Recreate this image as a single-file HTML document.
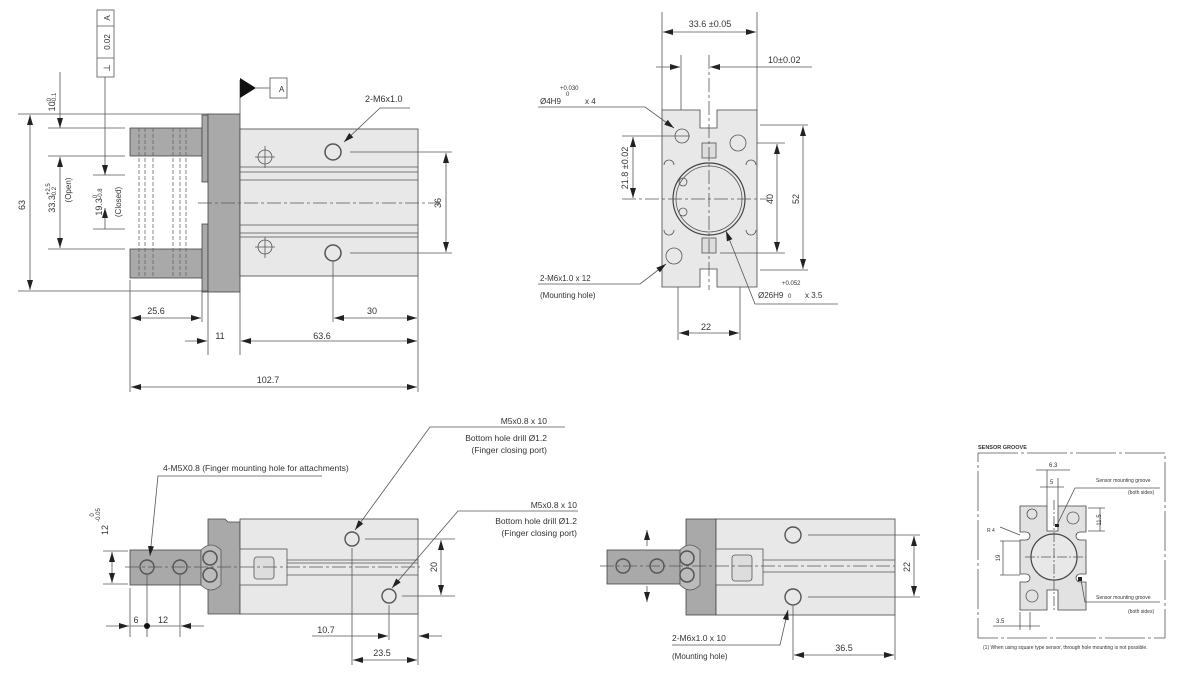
<!DOCTYPE html>
<html><head><meta charset="utf-8"><style>
html,body{margin:0;padding:0;background:#fff;width:1200px;height:676px;overflow:hidden}
svg{display:block}
text{font-family:"Liberation Sans",sans-serif;fill:#333}
</style></head><body>
<svg width="1200" height="676" viewBox="0 0 1200 676" xmlns="http://www.w3.org/2000/svg">
<defs>
<marker id="a" viewBox="0 0 10 6" refX="10" refY="3" markerWidth="10" markerHeight="6" orient="auto-start-reverse" markerUnits="userSpaceOnUse"><path d="M0,0 L10,3 L0,6 z" fill="#222"/></marker>
</defs>
<g stroke="#555" stroke-width="0.8" fill="none">
<!-- ===== TOP LEFT VIEW ===== -->
<!-- fingers -->
<rect x="130" y="128" width="72" height="28" fill="#a9a9a9" stroke="#444"/>
<rect x="130" y="249" width="72" height="29" fill="#a9a9a9" stroke="#444"/>
<rect x="202" y="115" width="6" height="67" fill="#a9a9a9" stroke="#444"/>
<rect x="202" y="224" width="6" height="68" fill="#a9a9a9" stroke="#444"/>
<g stroke="#666" stroke-dasharray="4,2">
<line x1="139" y1="128" x2="139" y2="278"/><line x1="145" y1="128" x2="145" y2="278"/>
<line x1="153" y1="128" x2="153" y2="278"/><line x1="173" y1="128" x2="173" y2="278"/>
<line x1="180" y1="128" x2="180" y2="278"/><line x1="186" y1="128" x2="186" y2="278"/>
</g>
<rect x="208" y="114" width="32" height="178" fill="#a9a9a9" stroke="#444"/>
<rect x="240" y="129" width="178" height="147" fill="#e8e8e8" stroke="#444"/>
<line x1="240" y1="167" x2="418" y2="167"/><line x1="240" y1="172" x2="418" y2="172"/><line x1="240" y1="180" x2="418" y2="180"/>
<line x1="240" y1="225" x2="418" y2="225"/><line x1="240" y1="233" x2="418" y2="233"/><line x1="240" y1="237" x2="418" y2="237"/>
<line x1="198" y1="203" x2="440" y2="203" stroke-dasharray="14,3,3,3"/>
<circle cx="265" cy="157" r="7"/><line x1="255" y1="157" x2="275" y2="157"/><line x1="265" y1="146" x2="265" y2="168"/>
<circle cx="265" cy="247" r="7"/><line x1="255" y1="247" x2="275" y2="247"/><line x1="265" y1="237" x2="265" y2="258"/>
<circle cx="333" cy="152" r="8" stroke-width="1.5"/><circle cx="333" cy="253" r="8" stroke-width="1.5"/>
<line x1="350" y1="152" x2="452" y2="152"/><line x1="350" y1="253" x2="452" y2="253"/>
<line x1="446" y1="153" x2="446" y2="252" marker-start="url(#a)" marker-end="url(#a)"/>
<polyline points="410,108 380,108 344,142" marker-end="url(#a)"/>
<!-- left dims -->
<line x1="18" y1="114" x2="208" y2="114"/><line x1="18" y1="291" x2="208" y2="291"/>
<line x1="30" y1="115" x2="30" y2="290" marker-start="url(#a)" marker-end="url(#a)"/>
<line x1="48" y1="128" x2="125" y2="128"/><line x1="48" y1="156" x2="125" y2="156"/><line x1="48" y1="249" x2="125" y2="249"/>
<line x1="60" y1="72" x2="60" y2="128" marker-end="url(#a)"/>
<line x1="60" y1="157" x2="60" y2="248" marker-start="url(#a)" marker-end="url(#a)"/>
<line x1="93" y1="175" x2="125" y2="175"/><line x1="93" y1="229" x2="125" y2="229"/>
<line x1="105" y1="77" x2="105" y2="175" marker-end="url(#a)"/>
<line x1="105" y1="229" x2="105" y2="208" marker-end="url(#a)"/>
<rect x="97" y="10" width="17" height="67" fill="#fff"/><line x1="97" y1="26" x2="114" y2="26"/><line x1="97" y1="58" x2="114" y2="58"/>
<!-- datum -->
<line x1="240" y1="80" x2="240" y2="114"/><line x1="256" y1="88" x2="270" y2="88"/>
<rect x="270" y="78" width="17" height="20" fill="#fff"/>
<!-- bottom dims -->
<line x1="130" y1="280" x2="130" y2="392"/><line x1="202" y1="292" x2="202" y2="322"/>
<line x1="208" y1="292" x2="208" y2="355"/><line x1="240" y1="292" x2="240" y2="355"/>
<line x1="418" y1="276" x2="418" y2="392"/><line x1="333" y1="262" x2="333" y2="322"/>
<line x1="131" y1="318" x2="201" y2="318" marker-start="url(#a)" marker-end="url(#a)"/>
<line x1="334" y1="318" x2="417" y2="318" marker-start="url(#a)" marker-end="url(#a)"/>
<line x1="185" y1="341" x2="207" y2="341" marker-end="url(#a)"/>
<line x1="241" y1="341" x2="417" y2="341" marker-start="url(#a)" marker-end="url(#a)"/>
<line x1="131" y1="387" x2="417" y2="387" marker-start="url(#a)" marker-end="url(#a)"/>

<!-- ===== TOP RIGHT VIEW ===== -->
<path d="M662,110 H700 V128 H717 V110 H757 V287 H717 V269 H700 V287 H662 Z" fill="#e8e8e8" stroke="#444"/>
<rect x="702" y="143" width="14" height="15" fill="#ddd"/><rect x="702" y="238" width="14" height="15" fill="#ddd"/>
<circle cx="709" cy="199" r="36" fill="#e8e8e8" stroke="#444" stroke-width="1.2"/>
<circle cx="709" cy="199" r="33"/>
<circle cx="682" cy="136" r="7"/><circle cx="738" cy="143" r="8"/><circle cx="674" cy="256" r="8"/>
<circle cx="683" cy="182" r="4"/><circle cx="683" cy="212" r="4"/>
<g><path d="M664,165 a5,5 0 0 1 10,0" /><path d="M746,165 a5,5 0 0 1 10,0"/><path d="M664,230 a5,5 0 0 0 10,0"/><path d="M746,230 a5,5 0 0 0 10,0"/></g>
<line x1="709" y1="55" x2="709" y2="290" stroke-dasharray="14,3,3,3"/>
<line x1="622" y1="199" x2="768" y2="199" stroke-dasharray="14,3,3,3"/>
<line x1="662" y1="12" x2="662" y2="110"/><line x1="757" y1="12" x2="757" y2="110"/>
<line x1="663" y1="32" x2="756" y2="32" marker-start="url(#a)" marker-end="url(#a)"/>
<line x1="681" y1="55" x2="681" y2="110"/>
<line x1="656" y1="67" x2="680" y2="67" marker-end="url(#a)"/>
<line x1="812" y1="67" x2="710" y2="67" marker-end="url(#a)"/>
<line x1="760" y1="125" x2="808" y2="125"/><line x1="760" y1="270" x2="808" y2="270"/>
<line x1="803" y1="126" x2="803" y2="269" marker-start="url(#a)" marker-end="url(#a)"/>
<line x1="757" y1="143" x2="785" y2="143"/><line x1="720" y1="253" x2="785" y2="253"/>
<line x1="777" y1="144" x2="777" y2="252" marker-start="url(#a)" marker-end="url(#a)"/>
<line x1="622" y1="136" x2="690" y2="136"/>
<line x1="633" y1="137" x2="633" y2="198" marker-start="url(#a)" marker-end="url(#a)"/>
<line x1="678" y1="287" x2="678" y2="340"/><line x1="740" y1="287" x2="740" y2="340"/>
<line x1="679" y1="333" x2="739" y2="333" marker-start="url(#a)" marker-end="url(#a)"/>
<polyline points="538,107 645,107 674,128" marker-end="url(#a)"/>
<polyline points="538,284 640,284 666,264" marker-end="url(#a)"/>
<polyline points="838,304 755,304 726,231" marker-end="url(#a)"/>

<!-- ===== BOTTOM LEFT VIEW ===== -->
<path d="M208,519 H225 L228,522 H240 V614 H208 Z" fill="#a9a9a9" stroke="#444"/>
<rect x="240" y="519" width="178" height="95" fill="#e8e8e8" stroke="#444"/>
<rect x="240" y="549" width="47" height="36" fill="#e8e8e8"/>
<rect x="254" y="557" width="20" height="22" rx="3" fill="#ddd"/>
<line x1="287" y1="560" x2="418" y2="560"/><line x1="287" y1="563" x2="418" y2="563"/><line x1="287" y1="575" x2="418" y2="575"/>
<rect x="130" y="550" width="71" height="35" fill="#a9a9a9" stroke="#444"/>
<path d="M201,550 q10,-10 20,0 v35 q-10,10 -20,0 z" fill="#bbb"/>
<circle cx="210" cy="558" r="7" stroke-width="1.5"/><circle cx="210" cy="575" r="7" stroke-width="1.5"/>
<circle cx="147" cy="567" r="7" stroke-width="1.4"/><circle cx="180" cy="567" r="7" stroke-width="1.4"/>
<line x1="125" y1="567" x2="420" y2="567" stroke-dasharray="14,3,3,3"/>
<circle cx="352" cy="539" r="7" stroke-width="1.4"/><circle cx="389" cy="596" r="7" stroke-width="1.4"/>
<line x1="365" y1="539" x2="455" y2="539"/><line x1="402" y1="596" x2="455" y2="596"/>
<line x1="441" y1="540" x2="441" y2="595" marker-start="url(#a)" marker-end="url(#a)"/>
<line x1="352" y1="548" x2="352" y2="665"/><line x1="389" y1="605" x2="389" y2="640"/>
<line x1="418" y1="614" x2="418" y2="640"/>
<line x1="312" y1="636" x2="388" y2="636" marker-end="url(#a)"/><line x1="442" y1="636" x2="419" y2="636" marker-end="url(#a)"/>
<line x1="353" y1="660" x2="417" y2="660" marker-start="url(#a)" marker-end="url(#a)"/>
<line x1="418" y1="640" x2="418" y2="665"/>
<polyline points="565,427 430,427 355,530" marker-end="url(#a)"/>
<polyline points="578,511 458,511 392,588" marker-end="url(#a)"/>
<polyline points="322,476 158,476 150,556" marker-end="url(#a)"/>
<line x1="103" y1="551" x2="128" y2="551"/><line x1="103" y1="584" x2="128" y2="584"/>
<line x1="112" y1="552" x2="112" y2="583" marker-start="url(#a)" marker-end="url(#a)"/>
<line x1="130" y1="588" x2="130" y2="637"/><line x1="147" y1="575" x2="147" y2="637"/><line x1="180" y1="575" x2="180" y2="637"/>
<line x1="106" y1="626" x2="129" y2="626" marker-end="url(#a)"/>
<line x1="204" y1="626" x2="181" y2="626" marker-end="url(#a)"/>
<line x1="130" y1="626" x2="180" y2="626"/>

<!-- ===== BOTTOM MIDDLE VIEW ===== -->
<rect x="686" y="519" width="30" height="96" fill="#a9a9a9" stroke="#444"/>
<rect x="716" y="519" width="179" height="96" fill="#e8e8e8" stroke="#444"/>
<rect x="716" y="549" width="47" height="36" fill="#e8e8e8"/>
<rect x="732" y="555" width="20" height="26" rx="3" fill="#ddd"/>
<line x1="763" y1="560" x2="895" y2="560"/><line x1="763" y1="572" x2="895" y2="572"/>
<rect x="607" y="550" width="73" height="34" fill="#a9a9a9" stroke="#444"/>
<path d="M680,550 q10,-10 20,0 v35 q-10,10 -20,0 z" fill="#bbb"/>
<circle cx="687" cy="558" r="7" stroke-width="1.5"/><circle cx="687" cy="575" r="7" stroke-width="1.5"/>
<circle cx="623" cy="566" r="7" stroke-width="1.4"/><circle cx="657" cy="566" r="7" stroke-width="1.4"/>
<line x1="600" y1="566" x2="895" y2="566" stroke-dasharray="14,3,3,3"/>
<line x1="647" y1="546" x2="647" y2="530" marker-end="url(#a)"/><line x1="647" y1="586" x2="647" y2="602" marker-end="url(#a)"/>
<circle cx="793" cy="535" r="8" stroke-width="1.4"/><circle cx="793" cy="597" r="8" stroke-width="1.4"/>
<line x1="808" y1="535" x2="920" y2="535"/><line x1="808" y1="597" x2="920" y2="597"/>
<line x1="914" y1="536" x2="914" y2="596" marker-start="url(#a)" marker-end="url(#a)"/>
<line x1="793" y1="606" x2="793" y2="660"/><line x1="895" y1="615" x2="895" y2="660"/>
<line x1="794" y1="655" x2="894" y2="655" marker-start="url(#a)" marker-end="url(#a)"/>
<polyline points="672,645 780,645 788,610" marker-end="url(#a)"/>

<!-- ===== SENSOR GROOVE ===== -->
<rect x="978" y="453" width="187" height="185" stroke-dasharray="40,3,3,3"/>
<path d="M1020,506 H1047 V531 H1058 V506 H1086 V532 H1080 a4,4 0 0 0 0,8 H1086 V574 H1080 a4,4 0 0 0 0,8 H1086 V610 H1058 V590 H1047 V610 H1020 V582 H1026 a4,4 0 0 0 0,-8 H1020 V540 H1026 a4,4 0 0 0 0,-8 H1020 Z" fill="#e2e2e2" stroke="#444"/>
<circle cx="1054" cy="557" r="23" fill="#e8e8e8" stroke="#444" stroke-width="1.2"/>
<circle cx="1032" cy="514" r="5"/><circle cx="1073" cy="518" r="6"/><circle cx="1032" cy="596" r="6"/>
<line x1="1025" y1="557" x2="1086" y2="557" stroke-dasharray="10,2,2,2"/>
<line x1="1054" y1="500" x2="1054" y2="612" stroke-dasharray="10,2,2,2"/>
<line x1="1047" y1="470" x2="1047" y2="506"/><line x1="1058" y1="478" x2="1058" y2="506"/>
<line x1="1036" y1="470" x2="1070" y2="470"/><line x1="1040" y1="487" x2="1064" y2="487"/>
<line x1="1088" y1="508" x2="1105" y2="508"/><line x1="1088" y1="531" x2="1105" y2="531"/>
<line x1="1100" y1="508" x2="1100" y2="531"/>
<line x1="1000" y1="541" x2="1020" y2="541"/><line x1="1000" y1="575" x2="1020" y2="575"/>
<line x1="1003" y1="541" x2="1003" y2="575"/>
<line x1="1020" y1="612" x2="1020" y2="630"/><line x1="1030" y1="612" x2="1030" y2="630"/>
<line x1="993" y1="626" x2="1040" y2="626"/>
<polyline points="1160,488 1075,488 1057,525"/>
<polyline points="1160,602 1085,602 1081,580"/>
<line x1="1000" y1="527" x2="1020" y2="535"/>
</g>
<rect x="1055" y="524" width="4" height="3" fill="#222"/><rect x="1078" y="577" width="4" height="4" fill="#222"/>
<polygon points="240,78 240,98 256,88" fill="#111"/>
<circle cx="147" cy="626" r="3" fill="#111"/>

<!-- TEXT -->
<g font-size="9">
<text x="365" y="102">2-M6x1.0</text>
<text x="156" y="314" text-anchor="middle">25.6</text>
<text x="372" y="314" text-anchor="middle">30</text>
<text x="220" y="339" text-anchor="middle">11</text>
<text x="322" y="339" text-anchor="middle">63.6</text>
<text x="268" y="383" text-anchor="middle">102.7</text>
<text x="279" y="92" font-size="8">A</text>
<text transform="translate(441,203) rotate(-90)" text-anchor="middle">36</text>
<text transform="translate(25,205) rotate(-90)" text-anchor="middle">63</text>
<text transform="translate(55,102) rotate(-90)" text-anchor="middle">10<tspan font-size="6" dy="-4">0</tspan><tspan font-size="6" dx="-5" dy="5">-0.1</tspan></text>
<text transform="translate(55,198) rotate(-90)" text-anchor="middle">33.3<tspan font-size="6" dy="-5">+2.5</tspan><tspan font-size="6" dx="-14" dy="6">-0.2</tspan></text>
<text transform="translate(71,190) rotate(-90)" text-anchor="middle" font-size="8">(Open)</text>
<text transform="translate(102,202) rotate(-90)" text-anchor="middle">19.3<tspan font-size="6" dy="-5">0</tspan><tspan font-size="6" dx="-4" dy="5">-0.8</tspan></text>
<text transform="translate(121,202) rotate(-90)" text-anchor="middle" font-size="8">(Closed)</text>
<text transform="translate(110,42) rotate(-90)" text-anchor="middle" font-size="8">0.02</text>
<text transform="translate(110,18) rotate(-90)" text-anchor="middle" font-size="8">A</text>
<text transform="translate(110,68) rotate(-90)" text-anchor="middle" font-size="9">⊥</text>

<text x="710" y="27" text-anchor="middle">33.6 ±0.05</text>
<text x="768" y="63">10±0.02</text>
<text x="540" y="104" font-size="8">Ø4H9</text><text x="585" y="104" font-size="8">x 4</text>
<text x="560" y="90" font-size="6">+0.030</text><text x="566" y="96" font-size="6">0</text>
<text x="540" y="281" font-size="8">2-M6x1.0 x 12</text>
<text x="540" y="298" font-size="8">(Mounting hole)</text>
<text x="758" y="298" font-size="8">Ø26H9</text><text x="788" y="298" font-size="6">0</text><text x="805" y="298" font-size="8">x 3.5</text>
<text x="782" y="285" font-size="6">+0.052</text>
<text x="706" y="330" text-anchor="middle">22</text>
<text transform="translate(628,168) rotate(-90)" text-anchor="middle">21.8 ±0.02</text>
<text transform="translate(773,199) rotate(-90)" text-anchor="middle">40</text>
<text transform="translate(799,199) rotate(-90)" text-anchor="middle">52</text>

<text x="547" y="424" text-anchor="end" font-size="8.5">M5x0.8 x 10</text>
<text x="547" y="441" text-anchor="end" font-size="8.5">Bottom hole drill  Ø1.2</text>
<text x="547" y="453" text-anchor="end" font-size="8.5">(Finger closing port)</text>
<text x="577" y="508" text-anchor="end" font-size="8.5">M5x0.8 x 10</text>
<text x="577" y="524" text-anchor="end" font-size="8.5">Bottom hole drill  Ø1.2</text>
<text x="577" y="536" text-anchor="end" font-size="8.5">(Finger closing port)</text>
<text x="163" y="471" font-size="8.5">4-M5X0.8 (Finger mounting hole for attachments)</text>
<text transform="translate(108,530) rotate(-90)" text-anchor="middle">12</text>
<text transform="translate(94,515) rotate(-90)" text-anchor="middle" font-size="6">0</text>
<text transform="translate(100,515) rotate(-90)" text-anchor="middle" font-size="6">-0.05</text>
<text x="136" y="623" text-anchor="middle">6</text>
<text x="163" y="623" text-anchor="middle">12</text>
<text transform="translate(437,567) rotate(-90)" text-anchor="middle">20</text>
<text x="326" y="633" text-anchor="middle">10.7</text>
<text x="382" y="656" text-anchor="middle">23.5</text>

<text transform="translate(910,567) rotate(-90)" text-anchor="middle">22</text>
<text x="844" y="651" text-anchor="middle">36.5</text>
<text x="672" y="641" font-size="8.5">2-M6x1.0 x 10</text>
<text x="672" y="659" font-size="8">(Mounting hole)</text>

<text x="978" y="449" font-size="5.5" font-weight="bold">SENSOR GROOVE</text>
<text x="1049" y="467" font-size="6">6.3</text>
<text x="1050" y="484" font-size="6">5</text>
<text x="1096" y="482" font-size="5">Sensor mounting groove</text>
<text x="1128" y="494" font-size="5">(both sides)</text>
<text x="1096" y="599" font-size="5">Sensor mounting groove</text>
<text x="1128" y="613" font-size="5">(both sides)</text>
<text transform="translate(1101,520) rotate(-90)" text-anchor="middle" font-size="6">11.5</text>
<text transform="translate(1000,558) rotate(-90)" text-anchor="middle" font-size="6">19</text>
<text x="996" y="623" font-size="6">3.5</text>
<text x="987" y="532" font-size="5">R 4</text>
<text x="983" y="649" font-size="5">(1)  When using square type sensor, through hole mounting is not possible.</text>
</g>
</svg>
</body></html>
